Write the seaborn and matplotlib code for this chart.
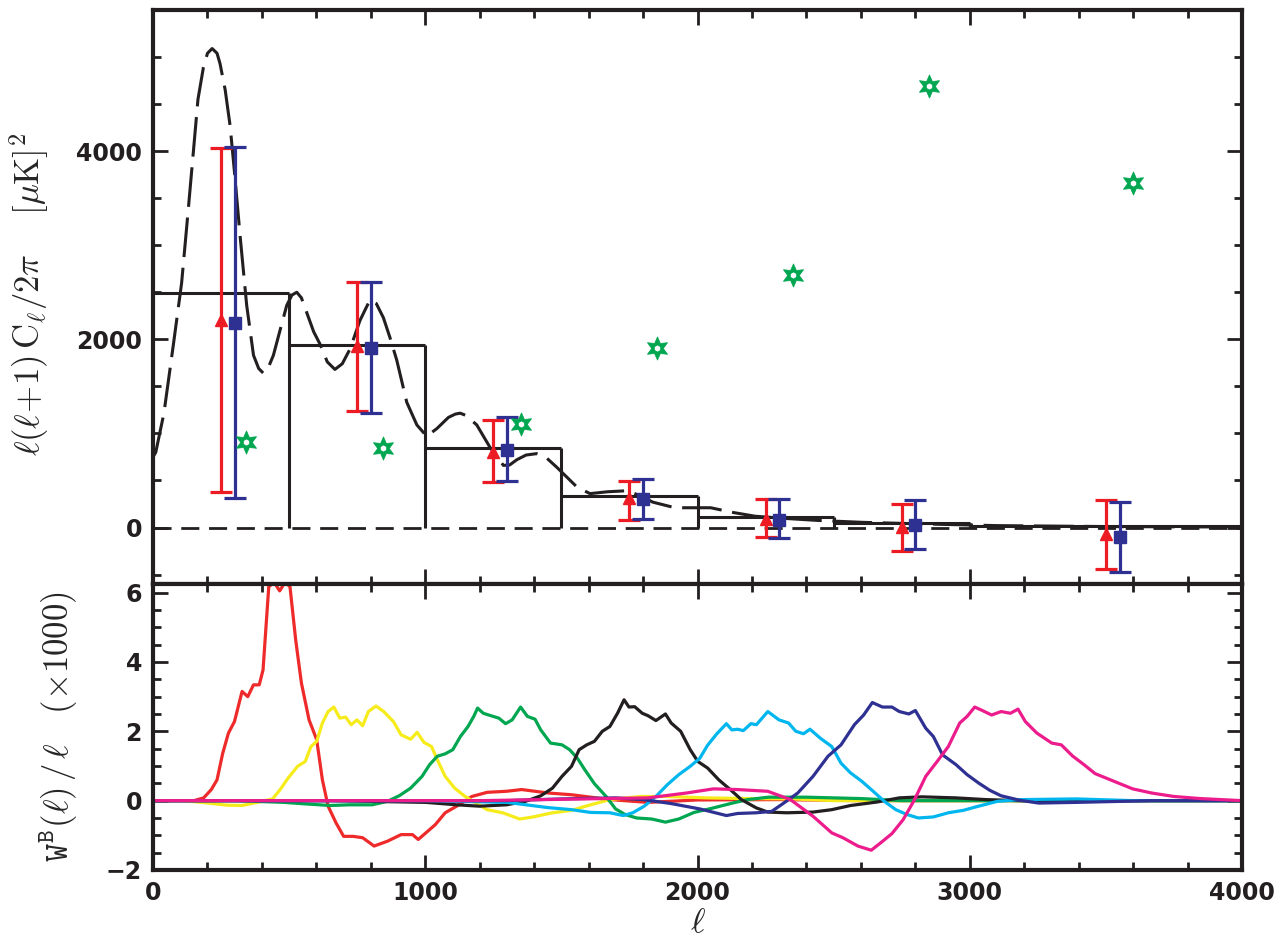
import numpy as np
import pandas as pd
import matplotlib
matplotlib.use('Agg')
import matplotlib.pyplot as plt
from matplotlib.ticker import MultipleLocator
import seaborn as sns

# --- colours ---
RED = '#ed1c24'
BLUE = '#2e3192'
STAR_GREEN = '#00a650'
WIN_COLORS = {
    'b1': '#ee2a2a', 'b2': '#f7ec1b', 'b3': '#00a650', 'b4': '#231f20',
    'b5': '#00b6ef', 'b6': '#2e3192', 'b7': '#ec1c8c',
}

# --- top panel: binned band powers (step outline) ---
BIN_EDGES = [0, 500, 1000, 1500, 2000, 2500, 3000, 4000]
BIN_POWER = [2490, 1940, 850, 330, 110, 50, 15]

# theory spectrum (dashed)
THEORY_L = [2, 10, 40, 75, 105, 130, 148, 165, 185, 200, 217, 235, 246, 265, 283,
            300, 320, 344, 369, 388, 405, 422, 442, 465, 491, 510, 528, 545, 565,
            590, 613, 640, 668, 695, 724, 760, 797, 820, 846, 870, 895, 932, 969,
            1005, 1042, 1085, 1110, 1128, 1150, 1189, 1238, 1287, 1310, 1336, 1370,
            1409, 1445, 1483, 1557, 1605, 1670, 1737, 1790, 1835, 1917, 1983, 2048,
            2130, 2211, 2330, 2443, 2605, 2800, 3100, 3500, 4000]
THEORY_D = [760, 800, 1215, 1950, 2600, 3400, 3990, 4550, 4890, 5040, 5090, 5040,
            4930, 4650, 4270, 3750, 3090, 2360, 1830, 1690, 1640, 1690, 1830, 2080,
            2360, 2470, 2500, 2440, 2280, 2080, 1950, 1760, 1680, 1740, 1900, 2200,
            2420, 2380, 2230, 2020, 1780, 1330, 1090, 970, 1050, 1170, 1205, 1215,
            1190, 1090, 850, 660, 665, 720, 770, 785, 740, 640, 430, 360, 380, 390,
            340, 270, 210, 210, 210, 160, 120, 95, 75, 55, 40, 20, 10, 5]

# estimates with error bars
RED_L = [250, 750, 1250, 1750, 2250, 2750, 3500]
RED_Y = [2210, 1930, 805, 310, 95, 10, -65]
RED_LO = [375, 1235, 480, 85, -105, -245, -440]
RED_HI = [4030, 2610, 1140, 490, 300, 245, 290]
BLUE_L = [300, 800, 1300, 1800, 2300, 2800, 3550]
BLUE_Y = [2175, 1905, 825, 300, 85, 30, -105]
BLUE_LO = [315, 1215, 490, 95, -110, -230, -470]
BLUE_HI = [4040, 2610, 1170, 515, 300, 290, 275]

# green stars
STAR_L = [340, 845, 1350, 1850, 2350, 2850, 3600]
STAR_Y = [905, 845, 1100, 1910, 2680, 4690, 3660]

# --- bottom panel: band-power window functions ---
WIN_RED_L = [0, 150, 186, 214, 235, 256, 277, 299, 327, 348, 369, 390, 404, 425,
             445, 465, 485, 503, 524, 545, 573, 601, 622, 643, 672, 700, 735, 770,
             812, 861, 911, 953, 974, 1002, 1037, 1073, 1115, 1171, 1227, 1298,
             1354, 1452, 1537, 1678, 1818, 2000, 2300, 2600, 4000]
WIN_RED_V = [0, 0, 0.08, 0.32, 0.6, 1.37, 1.95, 2.28, 3.15, 3.0, 3.34, 3.34, 3.77,
             6.17, 6.3, 6.05, 6.3, 6.17, 4.63, 3.39, 2.33, 1.76, 0.6, -0.16, -0.64,
             -1.03, -1.03, -1.07, -1.31, -1.17, -0.98, -0.98, -1.12, -0.93, -0.69,
             -0.35, -0.16, 0.12, 0.24, 0.27, 0.32, 0.22, 0.17, 0.03, -0.05, 0.02,
             0.03, 0.0, 0.0]
WIN_YEL_L = [0, 100, 180, 270, 327, 383, 439, 467, 496, 531, 559, 580, 601, 622,
             643, 664, 686, 707, 728, 749, 770, 791, 819, 847, 883, 911, 946, 970,
             995, 1023, 1044, 1073, 1108, 1143, 1185, 1227, 1284, 1347, 1396, 1467,
             1537, 1607, 1678, 1790, 1889, 2030, 2184, 2350, 2500, 4000]
WIN_YEL_V = [0, 0, -0.05, -0.13, -0.14, -0.05, 0.05, 0.32, 0.65, 0.99, 1.13, 1.56,
             1.71, 2.24, 2.57, 2.7, 2.38, 2.41, 2.19, 2.33, 2.16, 2.57, 2.73, 2.57,
             2.28, 1.9, 1.77, 1.97, 1.68, 1.56, 1.18, 0.7, 0.36, 0.14, -0.07, -0.26,
             -0.35, -0.53, -0.47, -0.35, -0.28, -0.12, 0.03, 0.12, 0.12, 0.08, 0.06,
             0.05, 0.0, 0.0]
WIN_GRN_L = [0, 300, 481, 552, 650, 721, 805, 861, 904, 946, 988, 1016, 1044, 1073,
             1101, 1129, 1157, 1178, 1192, 1213, 1241, 1270, 1295, 1319, 1350, 1375,
             1403, 1424, 1460, 1502, 1530, 1558, 1586, 1621, 1664, 1699, 1734, 1776,
             1832, 1882, 1931, 1987, 2058, 2128, 2184, 2260, 2400, 2600, 2750, 4000]
WIN_GRN_V = [0, 0, -0.05, -0.09, -0.14, -0.12, -0.12, -0.02, 0.14, 0.36, 0.7, 1.04,
             1.28, 1.35, 1.47, 1.85, 2.14, 2.43, 2.67, 2.52, 2.45, 2.38, 2.22, 2.33,
             2.7, 2.43, 2.35, 2.04, 1.66, 1.61, 1.47, 1.23, 0.89, 0.49, 0.12, -0.24,
             -0.4, -0.5, -0.53, -0.62, -0.53, -0.34, -0.21, -0.07, 0.03, 0.1, 0.1,
             0.06, 0.0, 0.0]
WIN_BLK_L = [0, 650, 1002, 1115, 1199, 1298, 1368, 1424, 1467, 1502, 1537, 1565,
             1593, 1621, 1650, 1678, 1706, 1730, 1748, 1769, 1797, 1818, 1847, 1882,
             1903, 1938, 1973, 2001, 2037, 2078, 2120, 2161, 2216, 2258, 2327, 2424,
             2493, 2562, 2659, 2741, 2824, 2949, 3060, 3184, 4000]
WIN_BLK_V = [0, 0, -0.05, -0.12, -0.16, -0.12, -0.02, 0.14, 0.36, 0.7, 0.99, 1.47,
             1.61, 1.71, 2.0, 2.14, 2.52, 2.91, 2.7, 2.71, 2.52, 2.45, 2.31, 2.5,
             2.24, 2.0, 1.47, 1.13, 0.94, 0.6, 0.32, 0.03, -0.21, -0.33, -0.35, -0.33,
             -0.26, -0.14, -0.04, 0.08, 0.11, 0.08, 0.03, 0.0, 0.0]
WIN_CYN_L = [0, 1000, 1300, 1450, 1537, 1607, 1678, 1727, 1762, 1804, 1847, 1889,
             1931, 1973, 2008, 2037, 2071, 2106, 2126, 2147, 2168, 2196, 2216, 2258,
             2299, 2334, 2361, 2389, 2413, 2451, 2493, 2527, 2562, 2603, 2645, 2686,
             2728, 2769, 2811, 2866, 2921, 2976, 3032, 3101, 3184, 3391, 3600, 4000]
WIN_CYN_V = [0, 0, -0.05, -0.2, -0.26, -0.34, -0.35, -0.43, -0.35, -0.16, 0.12,
             0.46, 0.75, 0.99, 1.22, 1.6, 1.93, 2.22, 2.04, 2.06, 2.02, 2.22, 2.19,
             2.57, 2.33, 2.24, 2.0, 1.93, 2.06, 1.8, 1.56, 1.08, 0.8, 0.56, 0.27,
             -0.02, -0.26, -0.4, -0.5, -0.47, -0.35, -0.28, -0.16, -0.02, 0.03, 0.05,
             0.0, 0.0]
WIN_NVY_L = [0, 1300, 1500, 1700, 1800, 1900, 2009, 2106, 2147, 2216, 2272, 2313,
             2368, 2424, 2479, 2527, 2576, 2610, 2642, 2679, 2714, 2741, 2776, 2800,
             2838, 2866, 2900, 2949, 2990, 3032, 3073, 3115, 3184, 3253, 3391, 3668,
             4000]
WIN_NVY_V = [0, 0, 0.05, 0.08, 0.03, -0.08, -0.24, -0.43, -0.37, -0.35, -0.31,
             -0.09, 0.22, 0.7, 1.28, 1.61, 2.19, 2.47, 2.83, 2.7, 2.7, 2.57, 2.5, 2.6,
             2.09, 1.85, 1.32, 1.04, 0.75, 0.51, 0.3, 0.14, 0.01, -0.07, -0.05, 0.0,
             0.0]
WIN_MAG_L = [0, 1200, 1818, 1959, 2058, 2147, 2258, 2341, 2424, 2493, 2534, 2589,
             2638, 2672, 2714, 2755, 2797, 2838, 2880, 2921, 2963, 2990, 3018, 3046,
             3080, 3115, 3149, 3177, 3204, 3246, 3301, 3336, 3377, 3419, 3460, 3529,
             3598, 3668, 3750, 3847, 4000]
WIN_MAG_V = [0, 0, 0.08, 0.22, 0.34, 0.32, 0.27, 0.03, -0.45, -0.93, -1.07, -1.31,
             -1.43, -1.22, -0.95, -0.55, 0.03, 0.7, 1.13, 1.56, 2.24, 2.43, 2.7, 2.6,
             2.47, 2.57, 2.52, 2.64, 2.28, 1.95, 1.66, 1.61, 1.29, 1.04, 0.78, 0.56,
             0.34, 0.22, 0.12, 0.06, 0.0]


def style_axis(ax, ymajor, yminor):
    ax.xaxis.set_major_locator(MultipleLocator(1000))
    ax.xaxis.set_minor_locator(MultipleLocator(200))
    ax.yaxis.set_major_locator(MultipleLocator(ymajor))
    ax.yaxis.set_minor_locator(MultipleLocator(yminor))
    ax.tick_params(which='both', direction='in', top=True, right=True,
                   width=2.0, colors='#231f20')
    ax.tick_params(which='major', length=11)
    ax.tick_params(which='minor', length=6)
    ax.tick_params(labelsize=17, pad=8)
    for lab in ax.get_xticklabels() + ax.get_yticklabels():
        lab.set_fontweight('bold')
    for sp in ax.spines.values():
        sp.set_linewidth(3.0)
        sp.set_color('#231f20')


def main():
    sns.set_style('ticks')
    plt.rcParams['font.family'] = ['DejaVu Sans']
    plt.rcParams['mathtext.fontset'] = 'cm'
    plt.rcParams['axes.unicode_minus'] = True

    fig = plt.figure(figsize=(12.85, 9.39), dpi=100)
    ax_top = fig.add_axes([0.1191, 0.3781, 0.8475, 0.6113])
    ax_bot = fig.add_axes([0.1191, 0.0735, 0.8475, 0.3046], sharex=ax_top)

    # ---------- top panel ----------
    ax_top.axhline(0, color='#231f20', lw=2.0, linestyle=(0, (6.5, 3.5)), zorder=1)

    # band power outline: tops plus drops to zero at each bin edge
    ax_top.hlines(BIN_POWER, BIN_EDGES[:-1], BIN_EDGES[1:], color='#231f20', lw=2.2, zorder=2)
    ax_top.vlines(BIN_EDGES[1:-1], 0, BIN_POWER[:-1], color='#231f20', lw=2.2, zorder=2)

    sns.lineplot(x=THEORY_L, y=THEORY_D, ax=ax_top, color='#231f20', lw=2.2,
                 linestyle=(0, (13, 3.5)), zorder=2)

    red_y = np.array(RED_Y)
    blue_y = np.array(BLUE_Y)
    ax_top.errorbar(RED_L, red_y, yerr=[red_y - np.array(RED_LO), np.array(RED_HI) - red_y],
                    fmt='^', color=RED, ms=9, capsize=8, elinewidth=2.3, capthick=2.3, zorder=4)
    ax_top.errorbar(BLUE_L, blue_y, yerr=[blue_y - np.array(BLUE_LO), np.array(BLUE_HI) - blue_y],
                    fmt='s', color=BLUE, ms=8.5, capsize=8, elinewidth=2.3, capthick=2.3, zorder=4)

    # six-pointed stars: filled green with a small white hole
    sns.scatterplot(x=STAR_L, y=STAR_Y, ax=ax_top, marker=(6, 1, 0), s=280,
                    color=STAR_GREEN, edgecolor=STAR_GREEN, linewidth=0.5, zorder=5)
    sns.scatterplot(x=STAR_L, y=STAR_Y, ax=ax_top, marker='h', s=20,
                    color='white', edgecolor='white', linewidth=0, zorder=6)

    ax_top.set_xlim(0, 4000)
    ax_top.set_ylim(-600, 5500)
    style_axis(ax_top, 2000, 500)
    ax_top.tick_params(labelbottom=False)
    ax_top.set_ylabel(r'$\ell(\ell\!+\!1)\,\mathrm{C}_\ell/2\pi\ \ \ \ [\mu\mathrm{K}]^2$',
                      fontsize=25)
    ax_top.yaxis.set_label_coords(-0.094, 0.505)

    # ---------- bottom panel ----------
    frames = []
    for key, ls, vs in [('b1', WIN_RED_L, WIN_RED_V), ('b2', WIN_YEL_L, WIN_YEL_V),
                        ('b3', WIN_GRN_L, WIN_GRN_V), ('b4', WIN_BLK_L, WIN_BLK_V),
                        ('b5', WIN_CYN_L, WIN_CYN_V), ('b6', WIN_NVY_L, WIN_NVY_V),
                        ('b7', WIN_MAG_L, WIN_MAG_V)]:
        frames.append(pd.DataFrame({'ell': ls, 'w': vs, 'band': key}))
    win = pd.concat(frames, ignore_index=True)
    sns.lineplot(data=win, x='ell', y='w', hue='band', palette=WIN_COLORS,
                 hue_order=list(WIN_COLORS), estimator=None, sort=False,
                 lw=2.3, legend=False, ax=ax_bot)

    ax_bot.set_xlim(0, 4000)
    ax_bot.set_ylim(-2, 6.25)
    style_axis(ax_bot, 2, 0.5)
    ax_bot.set_ylabel(r'$\mathtt{W}^{\mathtt{B}}(\ell)\,/\,\ell\ \ \ (\times1000)$', fontsize=25)
    ax_bot.yaxis.set_label_coords(-0.067, 0.5)
    ax_bot.set_xlabel(r'$\ell$', fontsize=25, labelpad=0)

    fig.savefig('out.png', dpi=100)


if __name__ == '__main__':
    main()
